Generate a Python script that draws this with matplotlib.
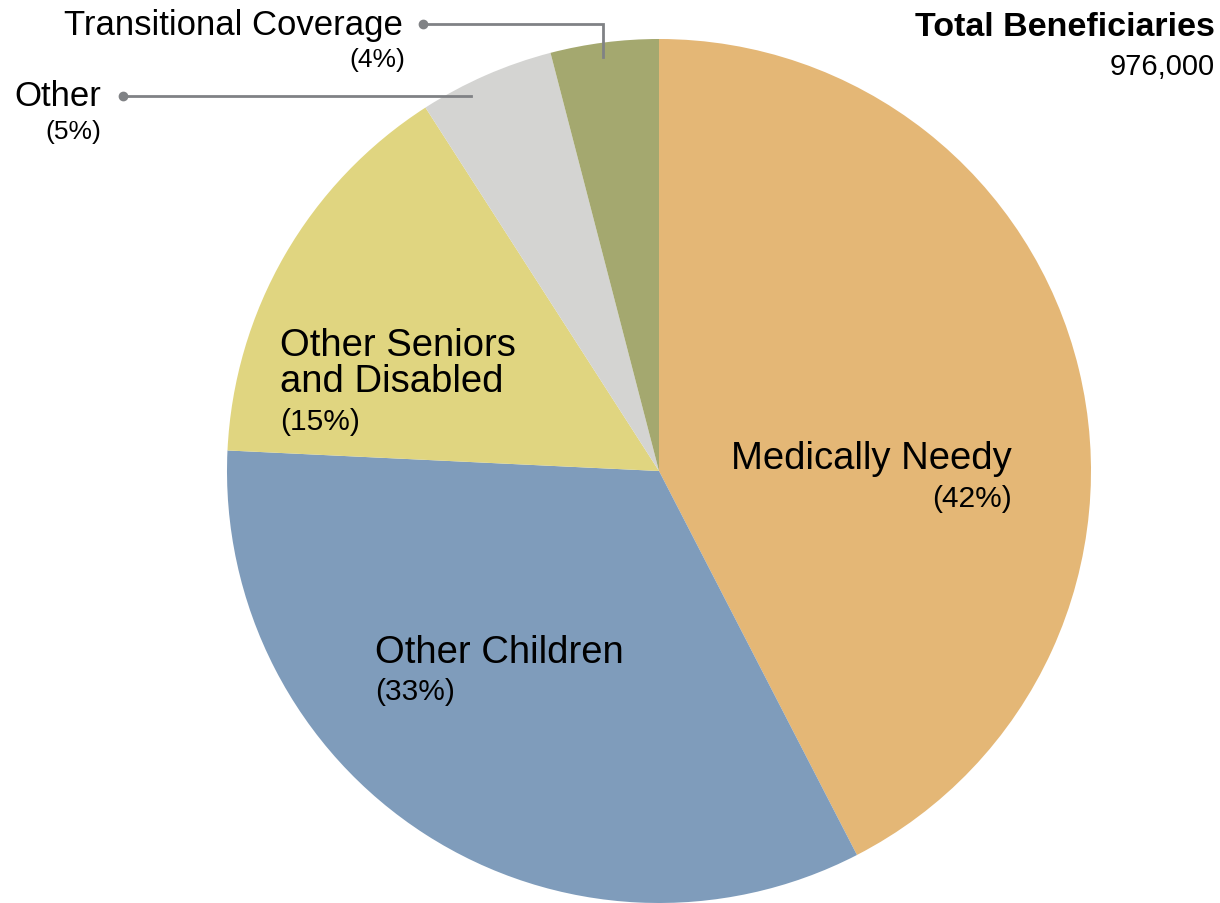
import matplotlib.pyplot as plt

plt.rcParams['font.family'] = ['Liberation Sans', 'DejaVu Sans']

# beneficiary groups, clockwise from 12 o'clock
groups = ['Medically Needy', 'Other Children', 'Other Seniors\nand Disabled',
          'Other', 'Transitional Coverage']
shares = [42, 33, 15, 5, 4]
colors = ['#E4B776', '#7F9CBB', '#E0D580', '#D4D4D2', '#A4A86F']
total_label = '976,000'

W, H = 1220, 904
fig = plt.figure(figsize=(W / 100, H / 100), dpi=100)
ax = fig.add_axes([0, 0, 1, 1])

# pie in pixel coordinates (y flipped, so counterclock=True runs clockwise on screen)
cx, cy, r = 659, 472, 432
ax.pie(shares, colors=colors, startangle=-90, counterclock=True,
       center=(cx, cy), radius=r, frame=True,
       wedgeprops=dict(linewidth=0))
ax.set_xlim(0, W)
ax.set_ylim(H, 0)
ax.axis('off')

big, pct = 27.5, 21.5
small, spct = 25, 19

# labels inside the slices
ax.text(1012, 469, groups[0], fontsize=big, ha='right', va='baseline')
ax.text(1012, 507, f'({shares[0]}%)', fontsize=pct, ha='right', va='baseline')
ax.text(375, 663, groups[1], fontsize=big, ha='left', va='baseline')
ax.text(375, 700, f'({shares[1]}%)', fontsize=pct, ha='left', va='baseline')
ax.text(280, 392, groups[2], fontsize=big, ha='left', va='baseline',
        linespacing=1.0)
ax.text(280, 430, f'({shares[2]}%)', fontsize=pct, ha='left', va='baseline')

# call-outs for the small slices
lc = '#808285'
ax.text(403, 35, groups[4], fontsize=small, ha='right', va='baseline')
ax.text(405, 67, f'({shares[4]}%)', fontsize=spct, ha='right', va='baseline')
ax.plot([423, 603, 603], [25, 25, 58], color=lc, lw=2, solid_joinstyle='miter')
ax.plot(423, 25, 'o', color=lc, ms=6)

ax.text(101, 106, groups[3], fontsize=small, ha='right', va='baseline')
ax.text(101, 139, f'({shares[3]}%)', fontsize=spct, ha='right', va='baseline')
ax.plot([123, 471], [97, 97], color=lc, lw=2)
ax.plot(123, 97, 'o', color=lc, ms=6)

# total in the corner
ax.text(1215, 36, 'Total Beneficiaries', fontsize=24.5, fontweight='bold',
        ha='right', va='baseline')
ax.text(1215, 75, total_label, fontsize=21, ha='right', va='baseline')

fig.savefig('out.png', dpi=100)
